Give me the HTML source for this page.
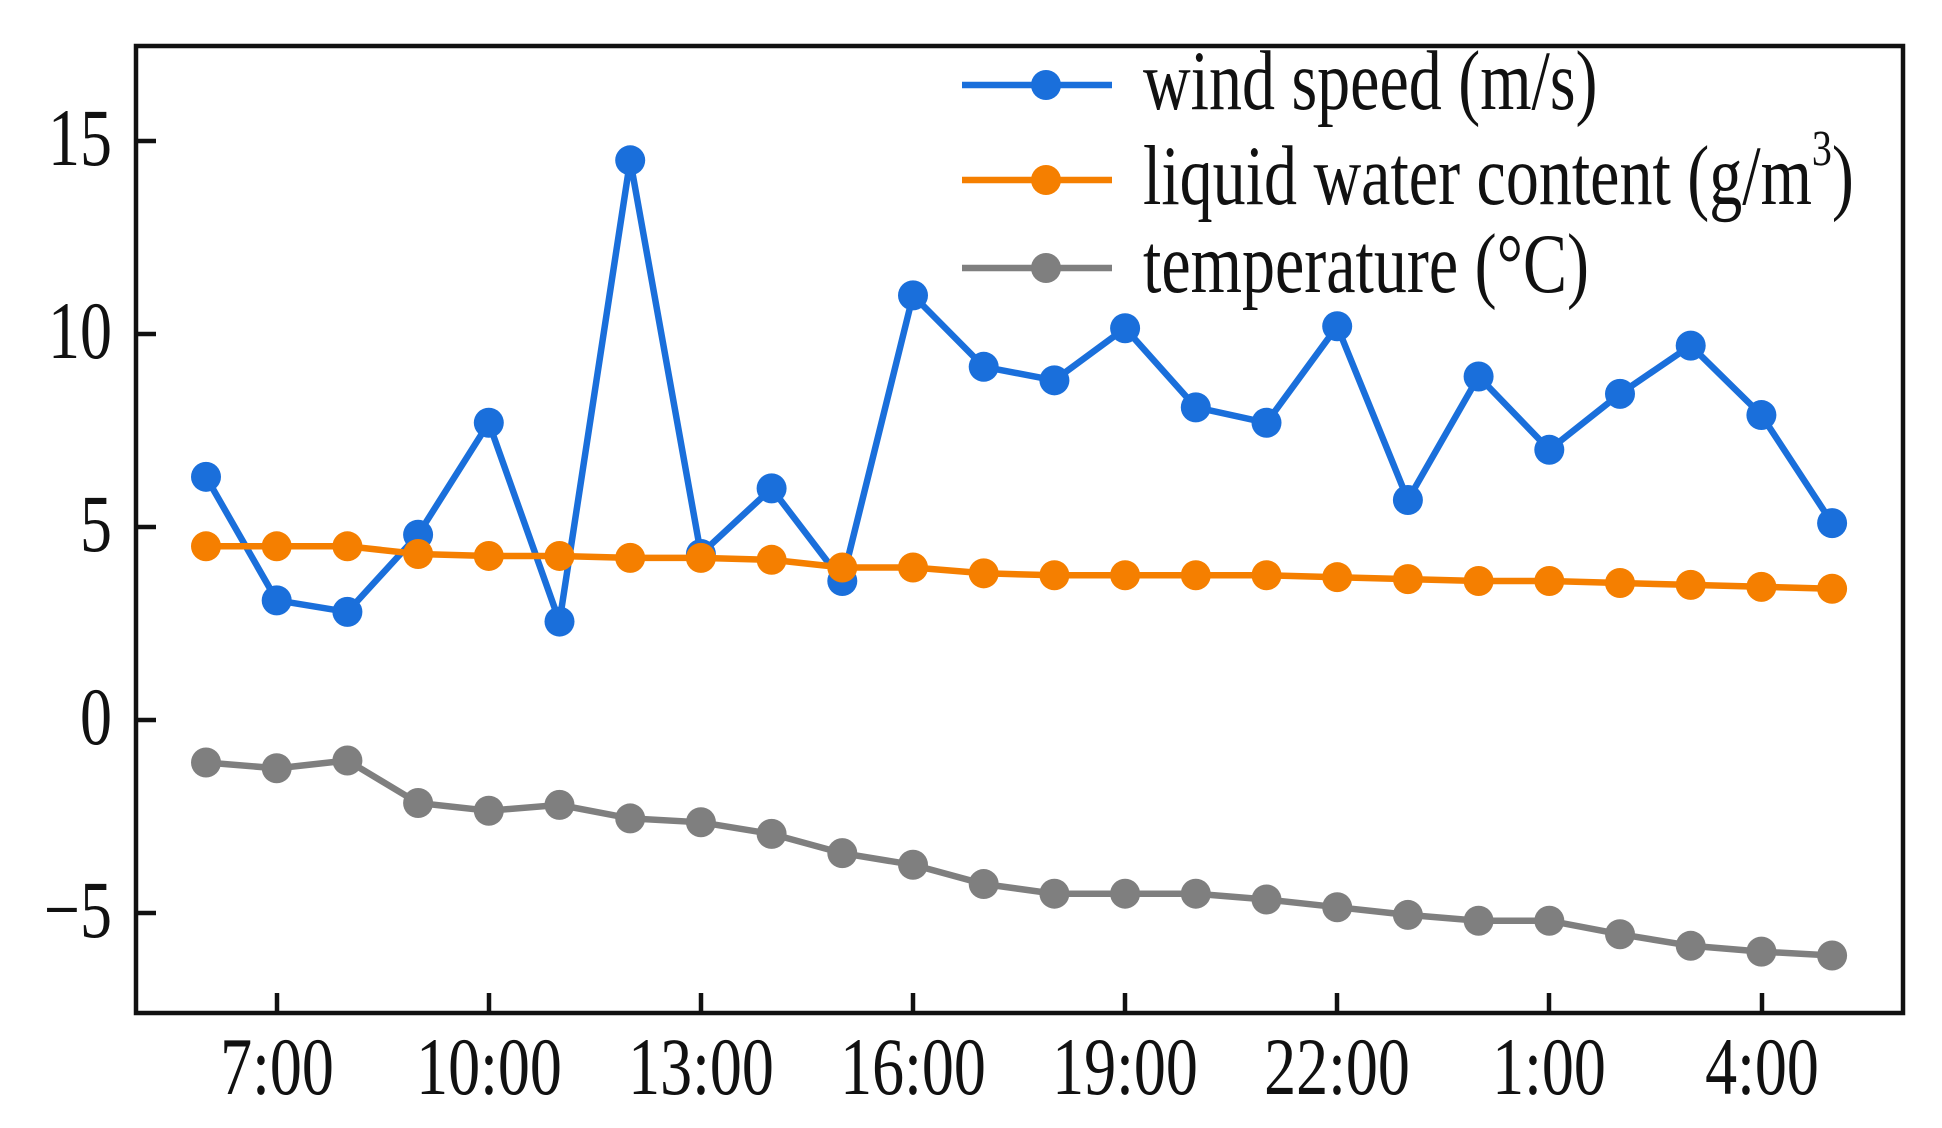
<!DOCTYPE html>
<html><head><meta charset="utf-8"><style>
html,body{margin:0;padding:0;background:#fff;}
svg{display:block;}
text{font-family:"Liberation Serif",serif;fill:#111;}
</style></head><body>
<svg width="1942" height="1128" viewBox="0 0 1942 1128" xmlns="http://www.w3.org/2000/svg">
<rect x="0" y="0" width="1942" height="1128" fill="#fff"/>
<g id="plot"></g>
<rect x="136" y="46" width="1767" height="967" fill="none" stroke="#111" stroke-width="4.5"/>
<g stroke="#111" stroke-width="4.5">
<line x1="136" y1="141" x2="156" y2="141"/>
<line x1="136" y1="334" x2="156" y2="334"/>
<line x1="136" y1="527" x2="156" y2="527"/>
<line x1="136" y1="720" x2="156" y2="720"/>
<line x1="136" y1="913" x2="156" y2="913"/>
<line x1="277" y1="1013" x2="277" y2="993"/>
<line x1="489" y1="1013" x2="489" y2="993"/>
<line x1="701" y1="1013" x2="701" y2="993"/>
<line x1="913" y1="1013" x2="913" y2="993"/>
<line x1="1125" y1="1013" x2="1125" y2="993"/>
<line x1="1337" y1="1013" x2="1337" y2="993"/>
<line x1="1549" y1="1013" x2="1549" y2="993"/>
<line x1="1762" y1="1013" x2="1762" y2="993"/>
</g>
<g font-size="64" text-anchor="end">
<text transform="translate(112,165) scale(1,1.28)">15</text>
<text transform="translate(112,358) scale(1,1.28)">10</text>
<text transform="translate(112,551) scale(1,1.28)">5</text>
<text transform="translate(112,744) scale(1,1.28)">0</text>
<text transform="translate(112,937) scale(1,1.28)">−5</text>
</g>
<g font-size="64" text-anchor="middle">
<text transform="translate(277,1094) scale(1,1.28)">7:00</text>
<text transform="translate(489,1094) scale(1,1.28)">10:00</text>
<text transform="translate(701,1094) scale(1,1.28)">13:00</text>
<text transform="translate(913,1094) scale(1,1.28)">16:00</text>
<text transform="translate(1125,1094) scale(1,1.28)">19:00</text>
<text transform="translate(1337,1094) scale(1,1.28)">22:00</text>
<text transform="translate(1549,1094) scale(1,1.28)">1:00</text>
<text transform="translate(1762,1094) scale(1,1.28)">4:00</text>
</g>
<g font-size="66">
<line x1="962" y1="85" x2="1112" y2="85" stroke="#1a6fdb" stroke-width="6.5"/>
<circle cx="1046" cy="85" r="15" fill="#1a6fdb"/>
<text transform="translate(1143,109) scale(1,1.28)">wind speed (m/s)</text>
<line x1="962" y1="180" x2="1112" y2="180" stroke="#f57f00" stroke-width="6.5"/>
<circle cx="1046" cy="180" r="15" fill="#f57f00"/>
<text transform="translate(1143,204) scale(1,1.28)">liquid water content (g/m<tspan font-size="40" dy="-30">3</tspan><tspan dy="30">)</tspan></text>
<line x1="962" y1="268" x2="1112" y2="268" stroke="#7f7f7f" stroke-width="6.5"/>
<circle cx="1046" cy="268" r="15" fill="#7f7f7f"/>
<text transform="translate(1143,292) scale(1,1.28)">temperature (°C)</text>
</g>
<script>
(function(){
var w=[6.3,3.1,2.8,4.8,7.7,2.55,14.5,4.3,6.0,3.6,11.0,9.15,8.8,10.15,8.1,7.7,10.2,5.7,8.9,7.0,8.45,9.7,7.9,5.1];
var l=[4.5,4.5,4.5,4.3,4.25,4.25,4.2,4.2,4.15,3.95,3.95,3.8,3.75,3.75,3.75,3.75,3.7,3.65,3.6,3.6,3.55,3.5,3.45,3.4];
var t=[-1.1,-1.25,-1.05,-2.15,-2.35,-2.2,-2.55,-2.65,-2.95,-3.45,-3.75,-4.25,-4.5,-4.5,-4.5,-4.65,-4.85,-5.05,-5.2,-5.2,-5.55,-5.85,-6.0,-6.1];
var g=document.getElementById('plot'),ns='http://www.w3.org/2000/svg';
function X(i){return 206+i*70.7;}function Y(v){return 720-38.6*v;}
function s(d,c){var p=d.map(function(v,i){return X(i).toFixed(1)+','+Y(v).toFixed(1);}).join(' ');
var pl=document.createElementNS(ns,'polyline');pl.setAttribute('points',p);pl.setAttribute('fill','none');pl.setAttribute('stroke',c);pl.setAttribute('stroke-width','6.5');g.appendChild(pl);
d.forEach(function(v,i){var ci=document.createElementNS(ns,'circle');ci.setAttribute('cx',X(i));ci.setAttribute('cy',Y(v));ci.setAttribute('r','15');ci.setAttribute('fill',c);g.appendChild(ci);});}
s(t,'#7f7f7f');s(w,'#1a6fdb');s(l,'#f57f00');
})();
</script>
</svg>
</body></html>
